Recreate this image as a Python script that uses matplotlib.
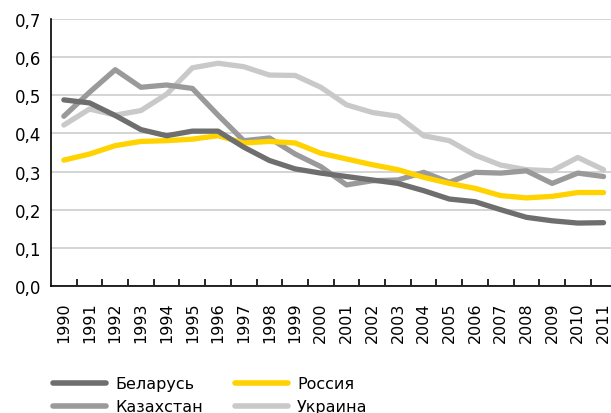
import numpy as np
import matplotlib.pyplot as plt
from matplotlib.ticker import FuncFormatter

# Годы и значения по странам
years = [str(y) for y in range(1990, 2012)]
belarus = [0.488, 0.480, 0.447, 0.410, 0.394, 0.406, 0.406, 0.364, 0.329, 0.307, 0.296,
           0.287, 0.278, 0.269, 0.250, 0.228, 0.221, 0.200, 0.180, 0.171, 0.165, 0.166]
kazakhstan = [0.445, 0.508, 0.567, 0.521, 0.527, 0.518, 0.448, 0.381, 0.388, 0.346, 0.313,
              0.265, 0.276, 0.278, 0.298, 0.272, 0.298, 0.296, 0.302, 0.269, 0.296, 0.287]
russia = [0.330, 0.346, 0.368, 0.379, 0.381, 0.385, 0.394, 0.375, 0.379, 0.375, 0.348,
          0.333, 0.318, 0.305, 0.285, 0.269, 0.256, 0.237, 0.231, 0.235, 0.245, 0.245]
ukraine = [0.422, 0.464, 0.448, 0.460, 0.503, 0.572, 0.584, 0.575, 0.553, 0.552, 0.521,
           0.475, 0.455, 0.445, 0.394, 0.381, 0.343, 0.317, 0.305, 0.302, 0.337, 0.305]

series = [
    ('Беларусь', belarus, '#6e6e6e'),
    ('Казахстан', kazakhstan, '#9a9a9a'),
    ('Россия', russia, '#ffd200'),
    ('Украина', ukraine, '#c8c9c8'),
]

fig = plt.figure(figsize=(6.11, 4.14), dpi=100)
ax = fig.add_axes([51 / 611, 1 - 287 / 414, 560 / 611, 267 / 414])

x = np.arange(len(years))
# порядок отрисовки: сначала Украина, поверх — остальные
for name, vals, col in [series[3], series[1], series[2], series[0]]:
    ax.plot(x, vals, color=col, lw=3.8, solid_capstyle='round', solid_joinstyle='round', zorder=3)

ax.set_xlim(-0.5, 21.29)
ax.set_ylim(0, 0.7)
ax.set_yticks(np.arange(0, 0.71, 0.1))
ax.yaxis.set_major_formatter(FuncFormatter(lambda v, p: f'{v:.1f}'.replace('.', ',')))
ax.grid(axis='y', color='#d4d4d4', lw=1.4, zorder=0)
ax.set_axisbelow(True)

ax.set_xticks(x)
ax.set_xticklabels(years, rotation=90, fontsize=11.5)
ax.set_xticks(np.arange(0.5, 21, 1), minor=True)
ax.tick_params(axis='x', which='major', length=0, pad=11)
ax.tick_params(axis='x', which='minor', direction='in', length=5, width=1.2, color='black')
ax.tick_params(axis='y', length=0, labelsize=12, pad=7)

for s in ['top', 'right']:
    ax.spines[s].set_visible(False)
ax.spines['left'].set_linewidth(1.2)
ax.spines['bottom'].set_linewidth(1.2)

handles = []
labels = []
for name, vals, col in series:
    h, = ax.plot([], [], color=col, lw=4, solid_capstyle='round')
    handles.append(h)
    labels.append(name)

fig.legend(handles, labels, ncol=2, loc='lower left', bbox_to_anchor=(0.063, -0.038),
           frameon=False, fontsize=11.5, handlelength=3.3, handletextpad=0.6,
           columnspacing=2.0, labelspacing=0.5)

fig.savefig('out.png', dpi=100)
